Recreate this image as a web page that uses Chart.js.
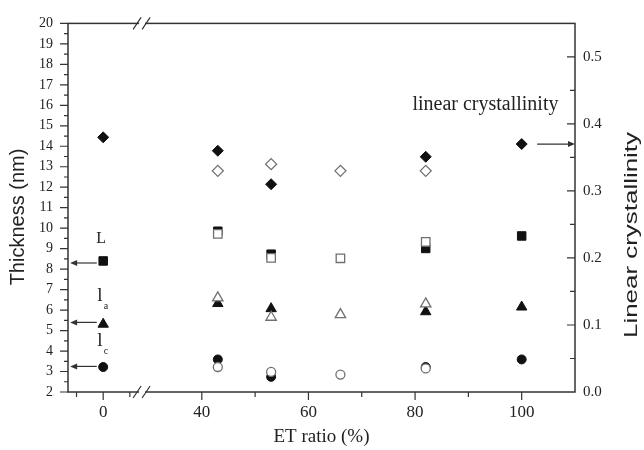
<!DOCTYPE html>
<html>
<head>
<meta charset="utf-8">
<script src="https://cdn.jsdelivr.net/npm/chart.js@4.4.1/dist/chart.umd.min.js"></script>
<style>
  html, body { margin: 0; padding: 0; background: #fff; }
</style>
</head>
<body>
<canvas id="thickness-chart" width="644" height="450"></canvas>
<script>
// ET ratio (%) of the samples
var etFilled = [0, 43, 53, 82, 100];
var etOpen = [43, 53, 66, 82];

// thickness (nm): L = long period, la = amorphous layer, lc = crystal layer
var longPeriod = [8.40, 9.85, 8.73, 9.01, 9.62];
var longPeriodOpen = [9.72, 8.55, 8.53, 9.33];
var amorphLayer = [5.31, 6.32, 6.07, 5.92, 6.15];
var amorphLayerOpen = [6.60, 5.65, 5.78, 6.30];
var crystLayer = [3.22, 3.59, 2.74, 3.22, 3.59];
var crystLayerOpen = [3.22, 2.98, 2.85, 3.15];

// linear crystallinity (right axis)
var linCryst = [0.380, 0.360, 0.310, 0.351, 0.370];
var linCrystOpen = [0.330, 0.340, 0.330, 0.330];

var xTicks = [-5, 0, 5, 40, 50, 60, 70, 80, 90, 100];
var xLabels = [0, 40, 60, 80, 100];

// x axis is broken between ~7 and ~29
var BREAK_AT = 7.3, BREAK_GAP = 21.5;

class BrokenLinearScale extends Chart.LinearScale {
  configure() {
    super.configure();
    this._valueRange -= BREAK_GAP;
  }
  getPixelForValue(value) {
    return super.getPixelForValue(value > BREAK_AT ? value - BREAK_GAP : value);
  }
}
BrokenLinearScale.id = 'brokenLinear';
BrokenLinearScale.defaults = Chart.LinearScale.defaults;
Chart.register(BrokenLinearScale);

function pts(xs, ys) {
  return xs.map(function(x, i) { return { x: x, y: ys[i] }; });
}

var INK = '#222', AXIS = '#333', OPEN = '#707070';

function filled(ys, style, radius, axis) {
  return { data: pts(etFilled, ys), yAxisID: axis || 'y', order: 1,
    pointStyle: style, pointRadius: radius, pointBackgroundColor: '#111',
    pointBorderColor: '#111', pointBorderWidth: 1, showLine: false };
}
function open(ys, style, radius, axis) {
  return { data: pts(etOpen, ys), yAxisID: axis || 'y', order: 0,
    pointStyle: style, pointRadius: radius, pointBackgroundColor: '#fff',
    pointBorderColor: OPEN, pointBorderWidth: 1.3, showLine: false };
}

function arrow(ctx, x1, y1, x2, y2) {
  var dir = x2 > x1 ? 1 : -1;
  ctx.beginPath();
  ctx.moveTo(x1, y1);
  ctx.lineTo(x2 - dir * 5, y2);
  ctx.stroke();
  ctx.beginPath();
  ctx.moveTo(x2, y2);
  ctx.lineTo(x2 - dir * 7, y2 - 3);
  ctx.lineTo(x2 - dir * 7, y2 + 3);
  ctx.closePath();
  ctx.fill();
}

var framePlugin = {
  id: 'frame',
  afterDraw: function(chart) {
    var ctx = chart.ctx, a = chart.chartArea;
    var sx = chart.scales.x, sy = chart.scales.y, sy2 = chart.scales.y2;
    ctx.save();
    ctx.strokeStyle = AXIS;
    ctx.fillStyle = AXIS;
    ctx.lineWidth = 1.5;
    ctx.strokeRect(a.left, a.top, a.right - a.left, a.bottom - a.top);

    ctx.lineWidth = 1.2;
    ctx.beginPath();
    sy.ticks.forEach(function(t) {
      var p = sy.getPixelForValue(t.value), len = t.label ? 8 : 4;
      ctx.moveTo(a.left - len, p); ctx.lineTo(a.left, p);
    });
    sy2.ticks.forEach(function(t) {
      if (t.value <= 0 || t.value >= 0.55) return;
      var p = sy2.getPixelForValue(t.value), len = t.label ? 8 : 5;
      ctx.moveTo(a.right - len, p); ctx.lineTo(a.right, p);
    });
    sx.ticks.forEach(function(t) {
      var p = sx.getPixelForValue(t.value), len = t.label ? 8 : 5;
      ctx.moveTo(p, a.bottom); ctx.lineTo(p, a.bottom + len);
    });
    ctx.stroke();

    // axis breaks
    var bx = sx.getPixelForValue(BREAK_AT);
    [a.top, a.bottom].forEach(function(y) {
      ctx.fillStyle = '#fff';
      ctx.fillRect(bx - 3, y - 2, 6, 4);
      ctx.beginPath();
      ctx.moveTo(bx - 9, y + 6); ctx.lineTo(bx - 1, y - 6);
      ctx.moveTo(bx, y + 6); ctx.lineTo(bx + 8, y - 6);
      ctx.stroke();
    });

    // arrows to the axes
    ctx.fillStyle = AXIS;
    ctx.lineWidth = 1.2;
    [8.3, 5.4, 3.25].forEach(function(v) {
      var y = sy.getPixelForValue(v);
      arrow(ctx, sx.getPixelForValue(-1.2), y, sx.getPixelForValue(-6.2), y);
    });
    var yr = sy2.getPixelForValue(0.37);
    arrow(ctx, sx.getPixelForValue(102.9), yr, sx.getPixelForValue(110), yr);

    // labels
    ctx.fillStyle = INK;
    ctx.textAlign = 'center';
    ctx.textBaseline = 'middle';
    ctx.font = '16px "Liberation Serif"';
    ctx.fillText('L', sx.getPixelForValue(-0.4), sy.getPixelForValue(9.49));
    [['a', 6.70], ['c', 4.51]].forEach(function(l) {
      var x = sx.getPixelForValue(-0.6), y = sy.getPixelForValue(l[1]);
      ctx.font = '19px "Liberation Serif"';
      ctx.fillText('l', x, y);
      ctx.font = '10px "Liberation Serif"';
      ctx.fillText(l[0], x + 6, y + 11);
    });
    ctx.font = '20px "Liberation Serif"';
    ctx.fillText('linear crystallinity', sx.getPixelForValue(93.2), sy2.getPixelForValue(0.428));

    // axis titles
    ctx.font = '20px "Liberation Sans"';
    ctx.translate(18, 217);
    ctx.rotate(-Math.PI / 2);
    ctx.fillText('Thickness (nm)', 0, 0);
    ctx.setTransform(1, 0, 0, 1, 0, 0);
    ctx.font = '18px "Liberation Sans"';
    var txt = 'Linear crystallinity', w = ctx.measureText(txt).width;
    ctx.translate(632, 235);
    ctx.rotate(-Math.PI / 2);
    ctx.scale(206 / w, 1);
    ctx.fillText(txt, 0, 0);
    ctx.restore();
  }
};

document.addEventListener('DOMContentLoaded', function() {
  var ctx = document.getElementById('thickness-chart').getContext('2d');
  new Chart(ctx, {
    type: 'scatter',
    data: {
      datasets: [
        open(longPeriodOpen, 'rect', 6),
        open(amorphLayerOpen, 'triangle', 6),
        open(crystLayerOpen, 'circle', 4.5),
        open(linCrystOpen, 'rectRot', 5.5, 'y2'),
        filled(longPeriod, 'rect', 6),
        filled(amorphLayer, 'triangle', 6),
        filled(crystLayer, 'circle', 4.5),
        filled(linCryst, 'rectRot', 5.5, 'y2')
      ]
    },
    options: {
      responsive: false,
      animation: false,
      layout: { padding: { top: 19, left: 0, right: 0, bottom: 0 } },
      plugins: { legend: { display: false }, tooltip: { enabled: false } },
      scales: {
        x: {
          type: 'brokenLinear', position: 'bottom', min: -6.6, max: 110,
          grid: { display: false, drawTicks: false }, border: { display: false },
          afterBuildTicks: function(s) { s.ticks = xTicks.map(function(v) { return { value: v }; }); },
          afterFit: function(s) { s.height = 58; },
          ticks: {
            autoSkip: false, maxRotation: 0, padding: 10, color: INK,
            font: { family: 'Liberation Serif', size: 17 },
            callback: function(v) { return xLabels.indexOf(v) >= 0 ? String(v) : ''; }
          },
          title: { display: true, text: 'ET ratio (%)', color: INK,
            font: { family: 'Liberation Serif', size: 19 }, padding: { top: 0, bottom: 2 } }
        },
        y: {
          position: 'left', min: 2, max: 20,
          grid: { display: false, drawTicks: false }, border: { display: false },
          afterFit: function(s) { s.width = 68; },
          ticks: {
            stepSize: 0.5, autoSkip: false, padding: 15, color: INK,
            font: { family: 'Liberation Serif', size: 14 },
            callback: function(v) { return v % 1 === 0 ? String(v) : ''; }
          }
        },
        y2: {
          position: 'right', min: 0, max: 0.55,
          grid: { display: false, drawTicks: false }, border: { display: false },
          afterFit: function(s) { s.width = 69; },
          ticks: {
            stepSize: 0.05, autoSkip: false, padding: 8, color: INK,
            font: { family: 'Liberation Serif', size: 15 },
            callback: function(v) {
              var t = Math.round(v * 100);
              return t % 10 === 0 ? (t / 100).toFixed(1) : '';
            }
          }
        }
      }
    },
    plugins: [framePlugin]
  });
});
</script>
</body>
</html>
